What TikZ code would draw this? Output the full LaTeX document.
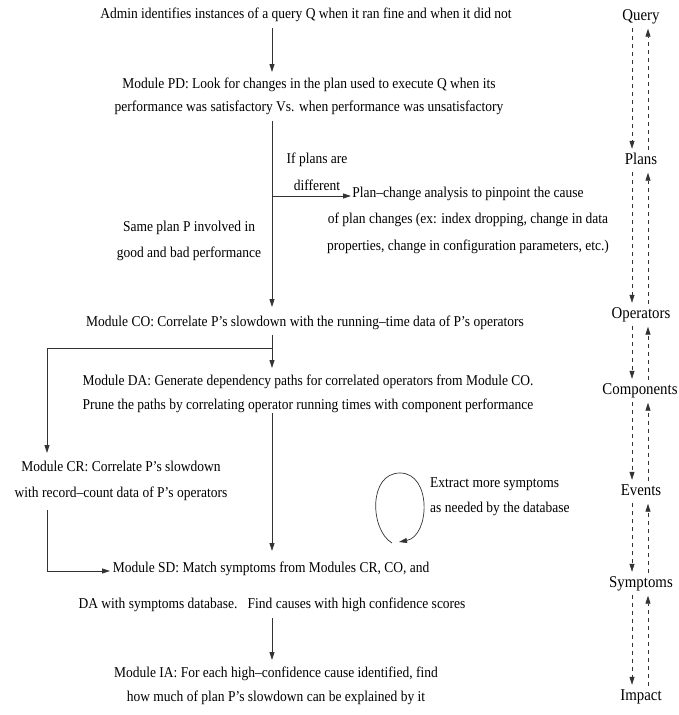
\documentclass[tikz,border=0pt]{standalone}
\usepackage{fontspec}
\setmainfont[FakeStretch=0.9]{Liberation Serif}
\usetikzlibrary{arrows.meta,calc}
\begin{document}
\begin{tikzpicture}[x=1pt,y=-1pt,
  txt/.style={inner sep=0pt, align=center, anchor=base},
  fs/.style={font=\fontsize{15}{#1}\selectfont},
  lab/.style={inner sep=1pt, anchor=base, text height=11pt, text depth=3.5pt, font=\fontsize{16.5}{18}\selectfont},
  conn/.style={draw=black!80, line width=0.8pt},
  arr/.style={conn, -{Triangle[length=8pt,width=5pt]}},
  dsh/.style={draw=black!80, line width=0.7pt, dash pattern=on 4pt off 4pt, -{Triangle[length=8pt,width=5pt]}}
]
\useasboundingbox (0,0) rectangle (678,715);

% main text nodes (anchor base = baseline of the last line)
\node[txt, fs=24] (admin) at (306,18) {Admin identifies instances of a query Q when it ran fine and when it did not};
\node[txt, fs=23] (pd) at (309,111) {Module PD: Look for changes in the plan used to execute Q when its\\performance was satisfactory Vs. when performance was unsatisfactory};
\node[txt, fs=27] (ifp) at (317,190) {If plans are\\different};
\node[txt, fs=26.5] (pc) at (468,250) {Plan\textendash change analysis to pinpoint the cause\\of plan changes (ex: index dropping, change in data\\properties, change in configuration parameters, etc.)};
\node[txt, fs=26] (same) at (189,257) {Same plan P involved in\\good and bad performance};
\node[txt, fs=24] (co) at (305,326) {Module CO: Correlate P’s slowdown with the running\textendash time data of P’s operators};
\node[txt, fs=24] (da) at (308,409) {Module DA: Generate dependency paths for correlated operators from Module CO.\\Prune the paths by correlating operator running times with component performance};
\node[txt, fs=26] (cr) at (121,497) {Module CR: Correlate P’s slowdown\\with record\textendash count data of P’s operators};
\node[txt, fs=25, align=left, anchor=base west] (ext) at (430,512) {Extract more symptoms\\as needed by the database};
\node[txt, fs=24] (sd1) at (271,572) {Module SD: Match symptoms from Modules CR, CO, and};
\node[txt, fs=24] (sd2) at (272,608) {DA with symptoms database.\ \ \ Find causes with high confidence scores};
\node[txt, fs=24] (ia) at (276,701) {Module IA: For each high\textendash confidence cause identified, find\\how much of plan P’s slowdown can be explained by it};

% right column labels
\node[lab] (q)  at (641,20)  {Query};
\node[lab] (pl) at (641,164) {Plans};
\node[lab] (op) at (641,318) {Operators};
\node[lab] (cm) at (640,394) {Components};
\node[lab] (ev) at (641,495) {Events};
\node[lab] (sy) at (641,587) {Symptoms};
\node[lab] (im) at (641,700) {Impact};

% spine coordinates
\coordinate (sp) at (272,0);
\coordinate (L) at (632,0);
\coordinate (R) at (648,0);

% main connectors
\draw[arr] ($(admin.base -| sp)+(0,10)$) -- ($(pd.base -| sp)+(0,-39)$);
\draw[arr] ($(pd.base -| sp)+(0,10)$) -- ($(co.base -| sp)+(0,-19)$);
\coordinate (b1) at ($(pd.base -| sp)+(0,85)$);
\coordinate (pctip) at ($(pc.base)+(-117,-54)$);
\draw[arr] (b1) -- (pctip);
\draw[arr] ($(co.base -| sp)+(0,9)$) -- ($(da.base -| sp)+(0,-41)$);
\coordinate (b2) at ($(co.base -| sp)+(0,22)$);
\draw[arr] (b2) -| ($(cr.base)+(-74,-44)$);
\draw[arr] ($(da.base -| sp)+(0,4)$) -- ($(sd1.base -| sp)+(0,-21)$);
\draw[arr] ($(cr.base)+(-74,13)$) |- ($(sd1.base)+(-161,-1)$);
\draw[arr] ($(sd2.base -| sp)+(0,10)$) -- ($(ia.base -| sp)+(0,-41)$);

% loop
\coordinate (lc) at (400,508);
\draw[conn, -{Triangle[length=8pt,width=5pt]}, line width=0.7pt]
  ($(lc)+(-8,35)$) .. controls ($(lc)+(-30,22)$) and ($(lc)+(-32,-35)$) .. ($(lc)+(0,-35)$)
  .. controls ($(lc)+(32,-35)$) and ($(lc)+(30,28)$) .. ($(lc)+(-1,34)$);

% right column dashed arrows (down on the left, up on the right)
\foreach \a/\b in {q/pl, pl/op, op/cm, cm/ev, ev/sy, sy/im}{
  \draw[dsh] ($(\a.south -| L)+(0,3)$) -- ($(\b.north -| L)+(0,-3)$);
  \draw[dsh] ($(\b.north -| R)+(0,-2)$) -- ($(\a.south -| R)+(0,4)$);
}
\end{tikzpicture}
\end{document}
